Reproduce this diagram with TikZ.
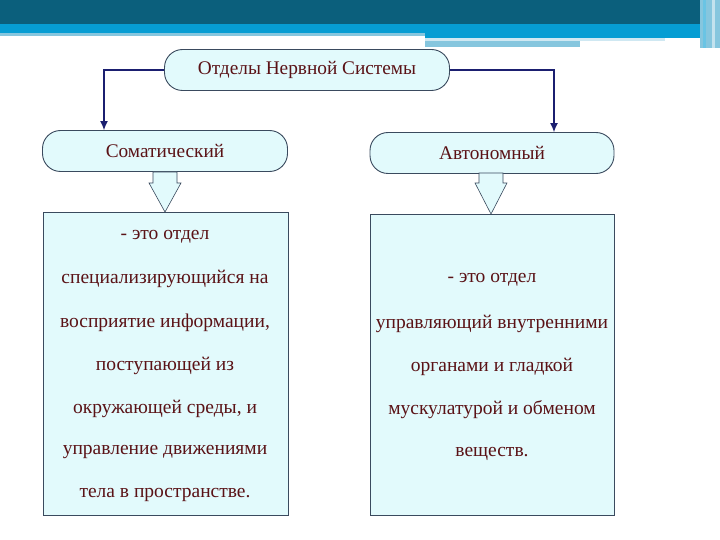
\documentclass[tikz,border=0pt]{standalone}
\usepackage{fontspec}
\setmainfont{Liberation Serif}
\usetikzlibrary{arrows.meta}
\definecolor{bandDark}{HTML}{0B5F7C}
\definecolor{bandBlue}{HTML}{069DD3}
\definecolor{bandLight}{HTML}{86C6DE}
\definecolor{boxFill}{HTML}{E2FAFC}
\definecolor{boxLine}{HTML}{3A4A5E}
\definecolor{txtRed}{HTML}{5A1216}
\definecolor{arrNavy}{HTML}{1B1F70}
\tikzset{
  x=1pt,y=-1pt,
  pill/.style={draw=boxLine, line width=0.9pt, fill=boxFill, rounded corners=18pt, minimum height=41pt, text=txtRed, font=\fontsize{19.3}{22}\selectfont},
  infobox/.style={draw=boxLine, line width=0.9pt, fill=boxFill},
  infotext/.style={text=txtRed, font=\fontsize{19.5}{22}\selectfont},
  conn/.style={draw=arrNavy, line width=1.1pt, -{Latex[length=9pt,width=8pt]}},
  blockarrow/.style={draw=boxLine, line width=0.6pt, fill=boxFill}
}
\begin{document}
\begin{tikzpicture}
\useasboundingbox (0,0) rectangle (720,540);
\fill[white] (0,0) rectangle (720,540);
% header bands
\fill[bandDark] (0,0) rectangle (720,24);
\fill[bandBlue] (0,24) rectangle (720,33);
\fill[bandLight] (0,33) rectangle (425,36);
\fill[bandBlue] (425,33) rectangle (705,38);
\fill[bandLight!40] (425,38) rectangle (665,41);
\fill[bandLight] (425,41) rectangle (580,47);
\fill[bandLight] (700,0) rectangle (720,48);
\fill[bandBlue!60] (703,0) rectangle (706,48);
\fill[bandLight!50] (712,0) rectangle (715,48);
% nodes
\node[pill, minimum width=285pt] (top) at (307,70) {Отделы Нервной Системы};
\node[pill, minimum width=245pt] (som) at (165,151) {Соматический};
\node[pill, minimum width=244pt] (aut) at (492,153) {Автономный};
% connectors
\coordinate (tl) at (104,70);
\coordinate (tr) at (554,70);
\draw[conn] (top.west) -- (tl) -- (tl |- som.north);
\draw[conn] (top.east) -- (tr) -- (tr |- aut.north);
% boxes
\node[infobox, minimum width=245pt, minimum height=303pt] (sbox) at (165.5,363.5) {};
\node[infobox, minimum width=244pt, minimum height=301pt] (abox) at (492,364.5) {};
% block arrows
\draw[blockarrow] (153,172) -- (177,172) -- (177,183) -- (181,183) -- (165,212) -- (149,183) -- (153,183) -- cycle;
\draw[blockarrow] (479,173) -- (503,173) -- (503,183) -- (507,183) -- (491,214) -- (475,183) -- (479,183) -- cycle;
% left text
\node[infotext] (s1) at (165,237) {- это отдел};
\node[infotext] (s2) at (165,279) {специализирующийся на};
\node[infotext] (s3) at (165,323) {восприятие информации,};
\node[infotext] (s4) at (165,366) {поступающей из};
\node[infotext] (s5) at (165,409) {окружающей среды, и};
\node[infotext] (s6) at (165,452) {управление движениями};
\node[infotext] (s7) at (165,495) {тела в пространстве.};
% right text
\node[infotext] (a1) at (492,280) {- это отдел};
\node[infotext] (a2) at (492,324) {управляющий внутренними};
\node[infotext] (a3) at (492,367) {органами и гладкой};
\node[infotext] (a4) at (492,410) {мускулатурой и обменом};
\node[infotext] (a5) at (492,454) {веществ.};
\end{tikzpicture}
\end{document}
